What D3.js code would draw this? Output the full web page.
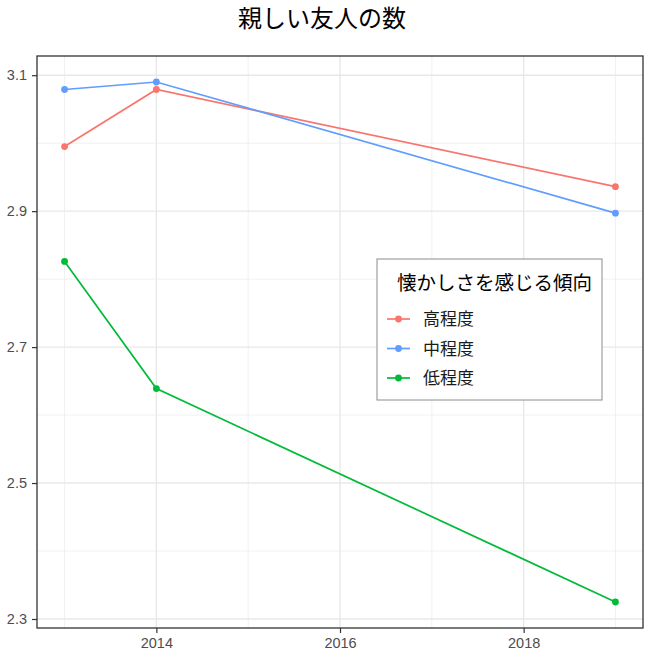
<!DOCTYPE html>
<html>
<head>
<meta charset="utf-8">
<script src="https://d3js.org/d3.v7.min.js"></script>
<style>
  body { margin: 0; background: #fff; }
  text { font-family: "Liberation Sans", "Noto Sans CJK JP", sans-serif; }
  .jp { font-family: "Noto Sans CJK JP", sans-serif; }
</style>
</head>
<body>
<div id="chart"></div>
<script>
var years = [2013, 2014, 2019];
var groups = ["高程度", "中程度", "低程度"];
var colors = ["#F8766D", "#619CFF", "#00BA38"];
var highValues = [2.995, 3.079, 2.936];
var midValues = [3.079, 3.090, 2.897];
var lowValues = [2.826, 2.639, 2.325];
var xTicks = [2014, 2016, 2018];
var yTicks = [2.3, 2.5, 2.7, 2.9, 3.1];
var xMinor = [2013, 2015, 2017, 2019];
var yMinor = [2.4, 2.6, 2.8, 3.0];

var series = [highValues, midValues, lowValues].map(function(vals, i) {
  return { name: groups[i], color: colors[i],
           points: years.map(function(y, j) { return { year: y, value: vals[j] }; }) };
});

var W = 650, H = 653;
var margin = {top: 56, right: 7, bottom: 25, left: 37};
var width = W - margin.left - margin.right,
    height = H - margin.top - margin.bottom;

var svg = d3.select("#chart").append("svg")
  .attr("width", W).attr("height", H);

svg.append("text")
  .attr("class", "jp")
  .attr("x", 322)
  .attr("y", 27)
  .attr("text-anchor", "middle")
  .style("font-size", "24px")
  .attr("fill", "#000")
  .text("親しい友人の数");

var g = svg.append("g")
  .attr("transform", "translate(" + margin.left + "," + margin.top + ")");

// ggplot style 5% expansion
var xExt = d3.extent(years), xPad = (xExt[1] - xExt[0]) * 0.05;
var allVals = highValues.concat(midValues, lowValues);
var yExt = d3.extent(allVals), yPad = (yExt[1] - yExt[0]) * 0.05;

var x = d3.scaleLinear().domain([xExt[0] - xPad, xExt[1] + xPad]).range([0, width]);
var y = d3.scaleLinear().domain([yExt[0] - yPad, yExt[1] + yPad]).range([height, 0]);

// grid
g.selectAll(".xminor").data(xMinor).enter().append("line")
  .attr("x1", d => x(d)).attr("x2", d => x(d)).attr("y1", 0).attr("y2", height)
  .attr("stroke", "#ebebeb").attr("stroke-width", 0.7);
g.selectAll(".yminor").data(yMinor).enter().append("line")
  .attr("y1", d => y(d)).attr("y2", d => y(d)).attr("x1", 0).attr("x2", width)
  .attr("stroke", "#ebebeb").attr("stroke-width", 0.7);
g.selectAll(".xmajor").data(xTicks).enter().append("line")
  .attr("x1", d => x(d)).attr("x2", d => x(d)).attr("y1", 0).attr("y2", height)
  .attr("stroke", "#e8e8e8").attr("stroke-width", 1.4);
g.selectAll(".ymajor").data(yTicks).enter().append("line")
  .attr("y1", d => y(d)).attr("y2", d => y(d)).attr("x1", 0).attr("x2", width)
  .attr("stroke", "#e8e8e8").attr("stroke-width", 1.4);

// axes
var xAxis = g.append("g")
  .attr("transform", "translate(0," + height + ")")
  .call(d3.axisBottom(x).tickValues(xTicks).tickFormat(d3.format("d")).tickSize(5).tickPadding(5));
var yAxis = g.append("g")
  .call(d3.axisLeft(y).tickValues(yTicks).tickFormat(d3.format(".1f")).tickSize(5).tickPadding(5));
[xAxis, yAxis].forEach(function(a) {
  a.select(".domain").remove();
  a.selectAll(".tick line").attr("stroke", "#333").attr("stroke-width", 1.2);
  a.selectAll(".tick text").attr("fill", "#4d4d4d").style("font-size", "14.5px")
    .style("font-family", "Liberation Sans, sans-serif");
});

// lines and points
var line = d3.line().x(d => x(d.year)).y(d => y(d.value));
series.forEach(function(s) {
  g.append("path").datum(s.points)
    .attr("fill", "none").attr("stroke", s.color).attr("stroke-width", 1.7)
    .attr("d", line);
  g.selectAll(null).data(s.points).enter().append("circle")
    .attr("cx", d => x(d.year)).attr("cy", d => y(d.value)).attr("r", 3.4)
    .attr("fill", s.color);
});

// panel border
g.append("rect").attr("width", width).attr("height", height)
  .attr("fill", "none").attr("stroke", "#333").attr("stroke-width", 1.3);

// legend
var lg = svg.append("g").attr("transform", "translate(377,259)");
lg.append("rect").attr("width", 225).attr("height", 141)
  .attr("fill", "#fff").attr("stroke", "#8c8c8c").attr("stroke-width", 1);
lg.append("text").attr("class", "jp")
  .attr("x", 20).attr("y", 31)
  .style("font-size", "19.5px").attr("fill", "#000")
  .text("懐かしさを感じる傾向");
series.forEach(function(s, i) {
  var cy = 60 + i * 29.5;
  lg.append("line").attr("x1", 10).attr("x2", 33).attr("y1", cy).attr("y2", cy)
    .attr("stroke", s.color).attr("stroke-width", 1.7);
  lg.append("circle").attr("cx", 21.5).attr("cy", cy).attr("r", 3.4).attr("fill", s.color);
  lg.append("text").attr("class", "jp")
    .attr("x", 46).attr("y", cy + 6)
    .style("font-size", "17px").attr("fill", "#1a1a1a")
    .text(s.name);
});
</script>
</body>
</html>
